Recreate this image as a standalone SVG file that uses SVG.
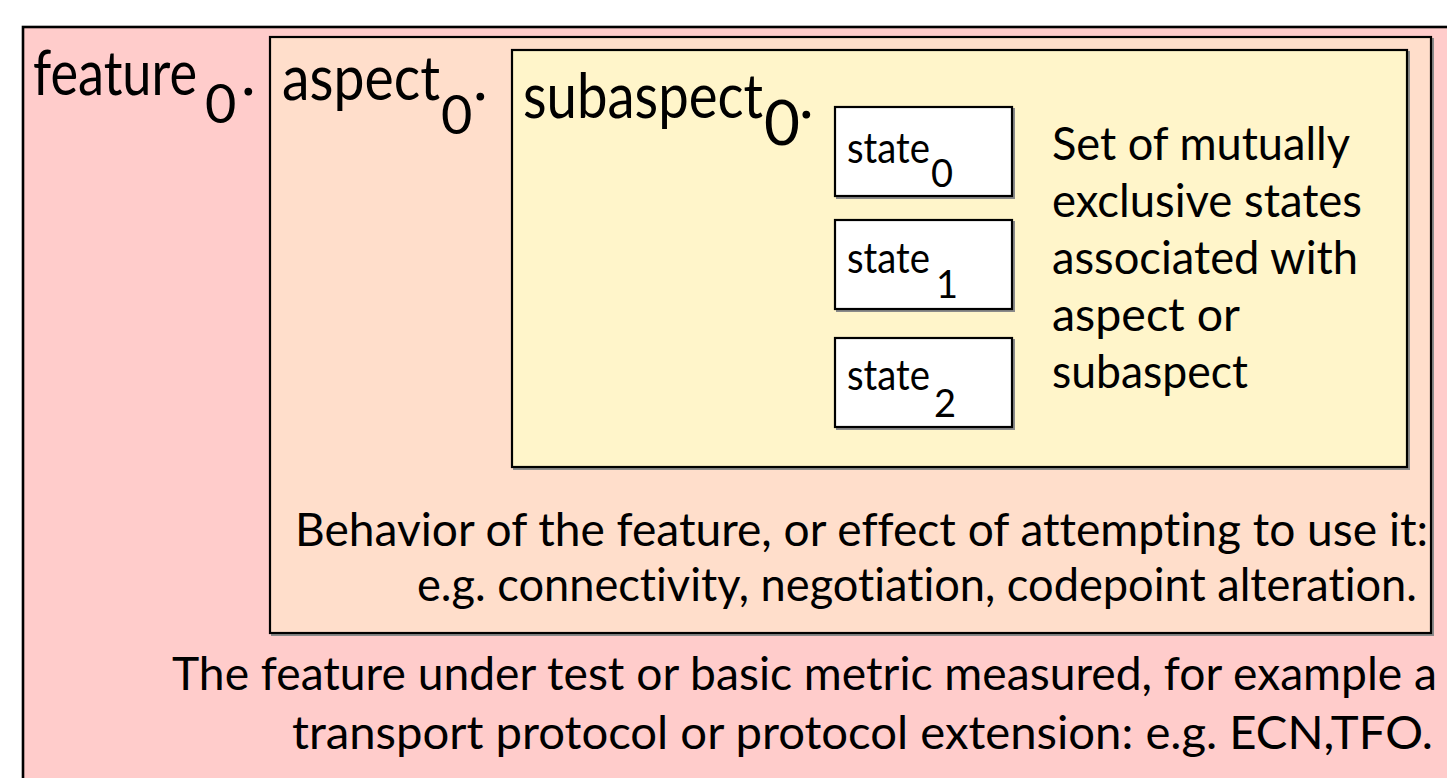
<svg xmlns="http://www.w3.org/2000/svg" width="1447" height="778" viewBox="0 0 1447 778">
<style>
.box{stroke:#000;stroke-width:2.2}
.sh{fill:none;stroke:#8a8a8a;stroke-width:2}
text{font-family:Lato,"Open Sans","Liberation Sans",sans-serif;fill:#000;font-variant-ligatures:none}
.lbl{font-size:62px}
.sub{font-size:54px}
.body{font-size:46px}
.st{font-size:42px}
.sts{font-size:38px}
</style>
<rect width="1447" height="778" fill="#ffffff"/>
<g id="feature">
<rect x="23" y="27" width="1440" height="770" fill="#ffcccb" stroke="#000" stroke-width="2.6"/>
<text class="lbl"><tspan x="33" y="95" textLength="164" lengthAdjust="spacingAndGlyphs">feature</tspan><tspan class="sub" x="205" y="123">0</tspan><tspan x="241" y="95">.</tspan></text>
<text class="body" x="172" y="690" textLength="1265" lengthAdjust="spacingAndGlyphs">The feature under test or basic metric measured, for example a</text>
<text class="body" x="292" y="749" textLength="1141" lengthAdjust="spacingAndGlyphs">transport protocol or protocol extension: e.g. ECN,TFO.</text>
</g>
<g id="aspect">
<rect class="sh" x="272" y="39" width="1161" height="596"/>
<rect class="box" x="270" y="37" width="1161" height="596" fill="#ffdecb"/>
<text class="lbl"><tspan x="282" y="100" textLength="158" lengthAdjust="spacingAndGlyphs">aspect</tspan><tspan class="sub" x="441" y="134">0</tspan><tspan x="473" y="100">.</tspan></text>
<text class="body" x="295" y="546" textLength="1133" lengthAdjust="spacingAndGlyphs">Behavior of the feature, or effect of attempting to use it:</text>
<text class="body" x="417" y="601" textLength="1000" lengthAdjust="spacingAndGlyphs">e.g. connectivity, negotiation, codepoint alteration.</text>
</g>
<g id="subaspect">
<rect class="sh" x="514" y="52" width="895" height="417"/>
<rect class="box" x="512" y="50" width="895" height="417" fill="#fff5ca"/>
<text class="lbl"><tspan x="523" y="118" textLength="240" lengthAdjust="spacingAndGlyphs">subaspect</tspan><tspan x="764" y="145">0</tspan><tspan x="799" y="118">.</tspan></text>
<text class="body" x="1052" y="160" textLength="298" lengthAdjust="spacingAndGlyphs">Set of mutually</text>
<text class="body" x="1052" y="217" textLength="310" lengthAdjust="spacingAndGlyphs">exclusive states</text>
<text class="body" x="1052" y="274" textLength="306" lengthAdjust="spacingAndGlyphs">associated with</text>
<text class="body" x="1052" y="331" textLength="188" lengthAdjust="spacingAndGlyphs">aspect or</text>
<text class="body" x="1052" y="388" textLength="196" lengthAdjust="spacingAndGlyphs">subaspect</text>
</g>
<g id="state0">
<rect class="sh" x="837" y="109" width="177" height="89"/>
<rect class="box" x="835" y="107" width="177" height="89" fill="#fff"/>
<text class="st"><tspan x="847" y="163" textLength="83" lengthAdjust="spacingAndGlyphs">state</tspan><tspan class="sts" x="931" y="187">0</tspan></text>
</g>
<g id="state1">
<rect class="sh" x="837" y="222" width="177" height="89"/>
<rect class="box" x="835" y="220" width="177" height="89" fill="#fff"/>
<text class="st"><tspan x="847" y="273" textLength="83" lengthAdjust="spacingAndGlyphs">state</tspan><tspan class="sts" x="936" y="298">1</tspan></text>
</g>
<g id="state2">
<rect class="sh" x="837" y="340" width="177" height="89"/>
<rect class="box" x="835" y="338" width="177" height="89" fill="#fff"/>
<text class="st"><tspan x="847" y="390" textLength="83" lengthAdjust="spacingAndGlyphs">state</tspan><tspan class="sts" x="934" y="417">2</tspan></text>
</g>
<g id="connectors"/>
</svg>
